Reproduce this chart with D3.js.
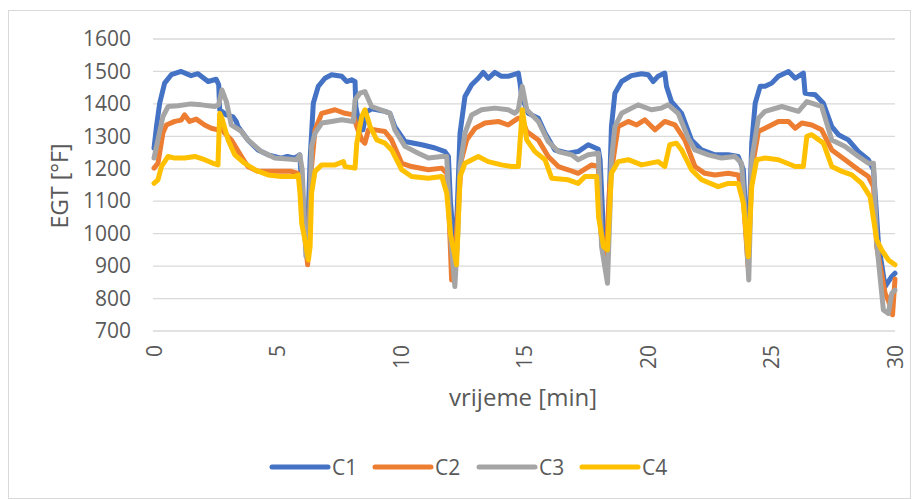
<!DOCTYPE html>
<html>
<head>
<meta charset="utf-8">
<script src="https://cdn.jsdelivr.net/npm/d3@7/dist/d3.min.js"></script>
<style>
  html, body { margin: 0; padding: 0; background: #fff; }
  svg { display: block; }
  text { font-family: "Open Sans", "Noto Sans", sans-serif; fill: #595959; }
</style>
</head>
<body>
<svg id="chart" width="912" height="499"></svg>
<script>
// ---- data ----
const seriesNames = ["C1", "C2", "C3", "C4"];
const seriesColors = ["#4472C4", "#ED7D31", "#A5A5A5", "#FFC000"];
const yTicks = [700, 800, 900, 1000, 1100, 1200, 1300, 1400, 1500, 1600];
const xTicks = [0, 5, 10, 15, 20, 25, 30];

const timeC1 = [0, 0.1, 0.23, 0.43, 0.7, 1.1, 1.5, 1.78, 2.19, 2.52, 2.62, 2.66, 2.93, 3.2, 3.33, 3.4, 3.8, 4.21, 4.62, 5.15, 5.4, 5.7, 5.9, 5.98, 6.1, 6.2, 6.32, 6.45, 6.65, 6.92, 7.19, 7.6, 7.8, 8.0, 8.14, 8.17, 8.3, 8.46, 8.6, 8.81, 9.35, 9.55, 9.75, 10.16, 10.84, 11.38, 11.78, 11.92, 12.0, 12.2, 12.39, 12.59, 12.86, 13.13, 13.33, 13.53, 13.8, 14.07, 14.34, 14.75, 14.82, 14.88, 15.15, 15.56, 15.83, 16.23, 16.77, 17.17, 17.58, 17.99, 18.06, 18.2, 18.36, 18.52, 18.66, 18.93, 19.33, 19.74, 20.01, 20.21, 20.41, 20.68, 20.75, 20.95, 21.36, 21.76, 22.17, 22.71, 23.25, 23.65, 23.86, 24.05, 24.2, 24.34, 24.54, 24.74, 25.01, 25.28, 25.69, 25.96, 26.29, 26.36, 26.77, 27.1, 27.44, 27.71, 28.11, 28.52, 28.92, 29.13, 29.33, 29.6, 29.87, 30.0];
const egtC1 = [1263, 1330, 1402, 1464, 1490, 1500, 1487, 1493, 1469, 1476, 1459, 1382, 1366, 1360, 1346, 1330, 1289, 1258, 1243, 1233, 1238, 1233, 1243, 1150, 1000, 950, 1228, 1402, 1454, 1479, 1490, 1485, 1469, 1474, 1469, 1392, 1340, 1320, 1375, 1385, 1377, 1371, 1330, 1284, 1274, 1264, 1253, 1238, 1100, 919, 1310, 1423, 1459, 1479, 1497, 1479, 1497, 1485, 1485, 1495, 1464, 1423, 1371, 1356, 1310, 1258, 1248, 1253, 1274, 1260, 1228, 1000, 930, 1330, 1433, 1469, 1487, 1493, 1490, 1469, 1485, 1495, 1454, 1407, 1371, 1289, 1258, 1243, 1243, 1238, 1197, 920, 1279, 1402, 1454, 1454, 1464, 1485, 1500, 1479, 1495, 1433, 1428, 1402, 1330, 1305, 1289, 1253, 1228, 1197, 970, 837, 868, 878];

const timeC2 = [0, 0.16, 0.36, 0.5, 0.84, 1.1, 1.24, 1.44, 1.71, 2.05, 2.32, 2.59, 2.7, 2.86, 3.13, 3.54, 3.8, 4.21, 4.6, 5.15, 5.56, 5.83, 5.95, 6.1, 6.22, 6.38, 6.52, 6.79, 7.33, 7.73, 8.07, 8.21, 8.41, 8.54, 8.68, 8.95, 9.35, 9.62, 10.03, 10.43, 11.11, 11.65, 11.85, 11.95, 12.05, 12.2, 12.45, 12.66, 13.0, 13.4, 13.94, 14.34, 14.75, 14.88, 15.09, 15.56, 15.96, 16.37, 16.77, 17.17, 17.72, 17.99, 18.1, 18.3, 18.45, 18.59, 18.79, 19.2, 19.54, 19.87, 20.28, 20.68, 21.09, 21.49, 21.9, 22.3, 22.71, 23.25, 23.65, 23.85, 24.05, 24.2, 24.47, 24.74, 25.28, 25.69, 25.96, 26.23, 26.63, 27.03, 27.44, 27.98, 28.52, 28.92, 29.13, 29.26, 29.6, 29.75, 29.9, 30.0];
const egtC2 = [1202, 1217, 1310, 1335, 1346, 1350, 1366, 1346, 1353, 1335, 1325, 1320, 1330, 1310, 1289, 1238, 1207, 1192, 1192, 1192, 1192, 1186, 1150, 1000, 904, 1207, 1320, 1371, 1382, 1371, 1366, 1330, 1289, 1279, 1320, 1320, 1315, 1289, 1217, 1207, 1197, 1202, 1186, 1050, 857, 950, 1228, 1289, 1325, 1341, 1346, 1335, 1356, 1356, 1315, 1289, 1238, 1207, 1197, 1186, 1212, 1207, 1000, 919, 1150, 1228, 1330, 1346, 1335, 1351, 1320, 1346, 1335, 1289, 1207, 1186, 1181, 1186, 1181, 1120, 900, 1197, 1315, 1325, 1346, 1346, 1325, 1341, 1335, 1320, 1258, 1228, 1197, 1176, 1145, 960, 816, 790, 750, 860];

const timeC3 = [0, 0.16, 0.36, 0.57, 0.97, 1.5, 1.92, 2.46, 2.62, 2.75, 2.93, 3.13, 3.54, 3.8, 4.35, 4.89, 5.43, 5.76, 5.9, 6.0, 6.15, 6.28, 6.38, 6.52, 6.79, 7.19, 7.6, 8.07, 8.14, 8.34, 8.54, 8.81, 9.35, 9.55, 9.75, 10.16, 10.7, 11.11, 11.65, 11.85, 12.0, 12.18, 12.3, 12.39, 12.59, 12.86, 13.26, 13.8, 14.34, 14.61, 14.75, 14.91, 15.09, 15.56, 15.96, 16.37, 16.91, 17.17, 17.58, 17.99, 18.12, 18.36, 18.45, 18.52, 18.66, 18.93, 19.6, 20.14, 20.55, 20.82, 21.22, 21.63, 21.9, 22.44, 22.98, 23.52, 23.79, 23.92, 24.08, 24.2, 24.47, 24.74, 25.42, 26.09, 26.43, 27.03, 27.44, 27.98, 28.52, 28.92, 29.13, 29.26, 29.53, 29.73, 29.87, 30.0];
const egtC3 = [1233, 1289, 1361, 1392, 1394, 1400, 1397, 1392, 1397, 1443, 1407, 1335, 1315, 1289, 1253, 1233, 1230, 1228, 1243, 1197, 930, 960, 1269, 1310, 1341, 1346, 1351, 1346, 1413, 1433, 1438, 1392, 1377, 1371, 1320, 1269, 1248, 1233, 1238, 1238, 1000, 837, 1000, 1207, 1310, 1366, 1382, 1387, 1382, 1371, 1382, 1454, 1382, 1346, 1284, 1253, 1243, 1228, 1243, 1248, 960, 847, 1050, 1228, 1330, 1371, 1397, 1382, 1387, 1397, 1371, 1294, 1258, 1243, 1233, 1238, 1217, 1073, 857, 1228, 1356, 1377, 1392, 1377, 1407, 1392, 1289, 1269, 1238, 1217, 1217, 970, 765, 754, 816, 826];

const timeC4 = [0, 0.16, 0.3, 0.57, 0.84, 1.24, 1.65, 2.05, 2.39, 2.59, 2.66, 2.75, 3.0, 3.27, 3.67, 4.08, 4.62, 5.15, 5.7, 5.84, 5.91, 5.98, 6.11, 6.25, 6.32, 6.38, 6.52, 6.79, 7.33, 7.67, 7.73, 8.14, 8.21, 8.41, 8.54, 8.75, 9.02, 9.35, 9.62, 10.03, 10.43, 11.11, 11.65, 11.85, 12.0, 12.25, 12.39, 12.59, 13.13, 13.53, 14.07, 14.48, 14.75, 14.91, 15.09, 15.42, 15.83, 16.1, 16.77, 17.17, 17.45, 17.92, 18.0, 18.2, 18.36, 18.52, 18.79, 19.2, 19.74, 20.41, 20.68, 20.88, 21.15, 21.36, 21.76, 22.17, 22.84, 23.25, 23.65, 23.86, 24.06, 24.2, 24.4, 24.74, 25.28, 25.96, 26.29, 26.43, 26.63, 27.1, 27.44, 27.85, 28.25, 28.65, 28.99, 29.26, 29.46, 29.73, 30.0];
const egtC4 = [1155, 1166, 1207, 1238, 1233, 1233, 1238, 1228, 1217, 1212, 1371, 1356, 1289, 1243, 1217, 1197, 1181, 1176, 1176, 1181, 1125, 1032, 981, 919, 960, 1125, 1192, 1212, 1212, 1222, 1207, 1202, 1279, 1361, 1382, 1330, 1289, 1279, 1258, 1197, 1176, 1171, 1176, 1125, 1000, 904, 1176, 1217, 1238, 1222, 1212, 1207, 1207, 1382, 1289, 1253, 1228, 1171, 1166, 1155, 1176, 1176, 1050, 960, 950, 1186, 1222, 1228, 1212, 1222, 1207, 1274, 1279, 1258, 1197, 1166, 1145, 1155, 1155, 1094, 929, 1145, 1228, 1233, 1228, 1207, 1207, 1300, 1305, 1279, 1207, 1192, 1181, 1155, 1114, 981, 950, 919, 904];

const seriesTimes = [timeC1, timeC2, timeC3, timeC4];
const seriesValues = [egtC1, egtC2, egtC3, egtC4];

// ---- drawing ----
const svg = d3.select("#chart");

svg.append("rect")
  .attr("x", 8.5).attr("y", 10.5)
  .attr("width", 902).attr("height", 488)
  .attr("fill", "#fff").attr("stroke", "#d9d9d9").attr("stroke-width", 1);

const x = d3.scaleLinear().domain([0, 30]).range([154, 895]);
const y = d3.scaleLinear().domain([700, 1600]).range([331, 39]);

// gridlines
svg.append("g")
  .selectAll("line")
  .data(yTicks)
  .join("line")
  .attr("x1", 153).attr("x2", 895)
  .attr("y1", d => y(d)).attr("y2", d => y(d))
  .attr("stroke", "#d9d9d9").attr("stroke-width", 1.3);

// y axis labels
const yAxis = svg.append("g")
  .attr("transform", "translate(137,0)")
  .call(d3.axisLeft(y).tickValues(yTicks).tickFormat(d3.format("d")).tickSize(0).tickPadding(6));
yAxis.select(".domain").remove();
yAxis.selectAll("text")
  .attr("font-family", "'Open Sans', sans-serif")
  .attr("font-size", 21).attr("fill", "#595959");

// x axis labels (rotated)
const xAxis = svg.append("g")
  .attr("transform", "translate(0,339)")
  .call(d3.axisBottom(x).tickValues(xTicks).tickFormat(d3.format("d")).tickSize(0).tickPadding(0));
xAxis.select(".domain").remove();
xAxis.selectAll("text")
  .attr("font-family", "'Open Sans', sans-serif")
  .attr("font-size", 21).attr("fill", "#595959")
  .attr("transform", "rotate(-90)")
  .attr("text-anchor", "end")
  .attr("x", -6).attr("y", 0).attr("dy", "0.35em");

// axis titles
svg.append("text")
  .attr("x", 523).attr("y", 406)
  .attr("text-anchor", "middle")
  .attr("font-size", 24)
  .text("vrijeme [min]");

svg.append("text")
  .attr("transform", "translate(68,186) rotate(-90)")
  .attr("text-anchor", "middle")
  .attr("font-size", 23)
  .text("EGT [°F]");

// lines
const line = d3.line()
  .x(d => x(d[0]))
  .y(d => y(d[1]));

seriesNames.forEach((name, i) => {
  const pts = seriesTimes[i].map((t, j) => [t, seriesValues[i][j]]);
  svg.append("path")
    .datum(pts)
    .attr("d", line)
    .attr("fill", "none")
    .attr("stroke", seriesColors[i])
    .attr("stroke-width", 5)
    .attr("stroke-linejoin", "round")
    .attr("stroke-linecap", "round");
});

// legend
const legendX = [272, 375, 479, 582];
const lg = svg.append("g");
seriesNames.forEach((name, i) => {
  lg.append("line")
    .attr("x1", legendX[i]).attr("x2", legendX[i] + 56)
    .attr("y1", 467).attr("y2", 467)
    .attr("stroke", seriesColors[i]).attr("stroke-width", 5)
    .attr("stroke-linecap", "round");
  lg.append("text")
    .attr("x", legendX[i] + 60).attr("y", 467)
    .attr("dy", "0.36em")
    .attr("font-size", 21)
    .text(name);
});
</script>
</body>
</html>
